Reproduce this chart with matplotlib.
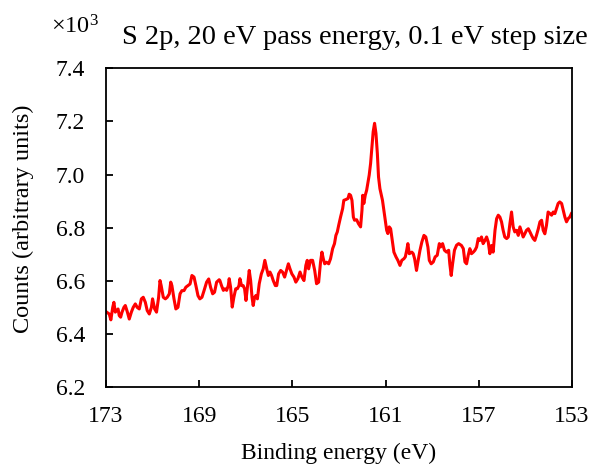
import matplotlib
matplotlib.use("Agg")
import matplotlib.pyplot as plt

# binding energy (eV) and counts (x10^3)
energy = [172.97, 172.86, 172.79, 172.71, 172.66, 172.60, 172.54, 172.48, 172.43, 172.37,
          172.31, 172.23, 172.17, 172.08, 172.00, 171.91, 171.83, 171.74, 171.66, 171.57,
          171.48, 171.40, 171.31, 171.23, 171.14, 171.05, 171.00, 170.91, 170.83, 170.74,
          170.68, 170.63, 170.54, 170.45, 170.37, 170.28, 170.22, 170.17, 170.08, 170.00,
          169.91, 169.82, 169.74, 169.65, 169.57, 169.48, 169.39, 169.31, 169.22, 169.14,
          169.05, 168.97, 168.88, 168.79, 168.68, 168.59, 168.51, 168.42, 168.34, 168.25,
          168.14, 168.11, 168.04, 167.96, 167.89, 167.82, 167.75, 167.71, 167.65, 167.58,
          167.51, 167.43, 167.36, 167.29, 167.25, 167.18, 167.11, 167.05, 166.99, 166.93,
          166.85, 166.79, 166.73, 166.68, 166.62, 166.56, 166.50, 166.42, 166.33, 166.25,
          166.18, 166.10, 166.03, 165.96, 165.89, 165.82, 165.73, 165.67, 165.59, 165.50,
          165.42, 165.33, 165.25, 165.17, 165.10, 165.02, 164.93, 164.85, 164.76, 164.67,
          164.59, 164.50, 164.42, 164.36, 164.30, 164.22, 164.13, 164.04, 163.96, 163.87,
          163.79, 163.73, 163.67, 163.61, 163.53, 163.44, 163.36, 163.27, 163.19, 163.13,
          163.07, 163.01, 162.93, 162.84, 162.79, 162.70, 162.61, 162.56, 162.50, 162.44,
          162.38, 162.33, 162.24, 162.16, 162.07, 162.01, 161.98, 161.93, 161.87, 161.81,
          161.76, 161.70, 161.64, 161.58, 161.53, 161.47, 161.41, 161.35, 161.30, 161.24,
          161.18, 161.13, 161.07, 161.01, 160.95, 160.90, 160.84, 160.78, 160.73, 160.64,
          160.55, 160.47, 160.38, 160.30, 160.21, 160.15, 160.09, 160.04, 159.98, 159.92,
          159.87, 159.81, 159.75, 159.67, 159.61, 159.52, 159.44, 159.35, 159.27, 159.18,
          159.12, 159.04, 158.95, 158.87, 158.78, 158.69, 158.64, 158.55, 158.47, 158.38,
          158.29, 158.24, 158.18, 158.12, 158.04, 157.95, 157.86, 157.74, 157.66, 157.59,
          157.52, 157.45, 157.38, 157.31, 157.23, 157.16, 157.09, 157.02, 156.95, 156.88,
          156.81, 156.73, 156.66, 156.59, 156.52, 156.45, 156.38, 156.30, 156.23, 156.16,
          156.09, 156.02, 155.95, 155.88, 155.80, 155.73, 155.66, 155.59, 155.52, 155.45,
          155.37, 155.30, 155.23, 155.16, 155.09, 155.02, 154.95, 154.87, 154.80, 154.73,
          154.66, 154.59, 154.52, 154.44, 154.37, 154.30, 154.23, 154.16, 154.09, 154.02,
          153.94, 153.87, 153.80, 153.73, 153.66, 153.59, 153.52, 153.44, 153.37, 153.30,
          153.23, 153.16, 153.09, 153.02]
counts = [6.482, 6.475, 6.453, 6.500, 6.519, 6.482, 6.488, 6.494, 6.469, 6.463,
          6.482, 6.500, 6.507, 6.482, 6.456, 6.482, 6.500, 6.513, 6.500, 6.494,
          6.532, 6.538, 6.519, 6.488, 6.475, 6.500, 6.532, 6.494, 6.482, 6.538,
          6.601, 6.582, 6.538, 6.532, 6.538, 6.551, 6.595, 6.582, 6.532, 6.494,
          6.500, 6.551, 6.563, 6.563, 6.576, 6.582, 6.588, 6.620, 6.614, 6.582,
          6.544, 6.532, 6.538, 6.563, 6.595, 6.607, 6.576, 6.551, 6.557, 6.595,
          6.604, 6.601, 6.582, 6.564, 6.570, 6.564, 6.582, 6.608, 6.576, 6.501,
          6.538, 6.570, 6.570, 6.582, 6.608, 6.582, 6.582, 6.570, 6.526, 6.576,
          6.639, 6.601, 6.538, 6.507, 6.538, 6.545, 6.532, 6.589, 6.626, 6.645,
          6.677, 6.645, 6.620, 6.633, 6.620, 6.601, 6.582, 6.582, 6.626, 6.639,
          6.633, 6.614, 6.639, 6.664, 6.645, 6.626, 6.614, 6.595, 6.608, 6.633,
          6.614, 6.601, 6.658, 6.677, 6.645, 6.677, 6.677, 6.639, 6.589, 6.595,
          6.670, 6.708, 6.683, 6.664, 6.670, 6.664, 6.683, 6.721, 6.740, 6.771,
          6.784, 6.809, 6.840, 6.872, 6.903, 6.906, 6.910, 6.926, 6.922, 6.903,
          6.840, 6.828, 6.830, 6.815, 6.803, 6.866, 6.922, 6.891, 6.922, 6.941,
          6.966, 6.998, 7.042, 7.105, 7.161, 7.193, 7.155, 7.079, 6.991, 6.947,
          6.922, 6.903, 6.866, 6.828, 6.790, 6.778, 6.803, 6.796, 6.765, 6.708,
          6.690, 6.677, 6.658, 6.677, 6.683, 6.690, 6.715, 6.740, 6.702, 6.705,
          6.708, 6.702, 6.683, 6.639, 6.671, 6.715, 6.746, 6.771, 6.765, 6.727,
          6.677, 6.664, 6.671, 6.690, 6.696, 6.740, 6.727, 6.740, 6.715, 6.708,
          6.715, 6.664, 6.620, 6.664, 6.715, 6.734, 6.740, 6.733, 6.721, 6.671,
          6.664, 6.696, 6.721, 6.702, 6.708, 6.715, 6.727, 6.759, 6.752, 6.765,
          6.740, 6.752, 6.765, 6.746, 6.702, 6.733, 6.708, 6.790, 6.834, 6.847,
          6.840, 6.822, 6.790, 6.765, 6.759, 6.765, 6.815, 6.859, 6.803, 6.784,
          6.790, 6.771, 6.803, 6.784, 6.765, 6.777, 6.790, 6.796, 6.784, 6.771,
          6.759, 6.752, 6.771, 6.796, 6.822, 6.828, 6.790, 6.777, 6.809, 6.859,
          6.853, 6.847, 6.859, 6.853, 6.872, 6.891, 6.897, 6.891, 6.865, 6.840,
          6.822, 6.834, 6.840, 6.853]

x_ticks = [173, 169, 165, 161, 157, 153]
y_ticks = [6.2, 6.4, 6.6, 6.8, 7.0, 7.2, 7.4]

plt.rcParams['font.family'] = ['Liberation Serif', 'DejaVu Serif']
plt.rcParams['mathtext.fontset'] = 'custom'
plt.rcParams['mathtext.rm'] = 'Liberation Serif'

fig = plt.figure(figsize=(5.92, 4.68), dpi=100)
ax = fig.add_axes([0.179, 0.173, 0.787, 0.681])

ax.plot(energy, counts, color='#ff0000', lw=2.2)

ax.set_xlim(173, 153)
ax.set_ylim(6.2, 7.4)
ax.set_xticks(x_ticks)
ax.set_yticks(y_ticks)
ax.set_xticklabels([str(t) for t in x_ticks])
ax.set_yticklabels(['%.1f' % t for t in y_ticks])
ax.tick_params(direction='in', length=5, width=1.3, labelsize=17, colors='black')
ax.tick_params(axis='x', pad=14)
ax.tick_params(axis='y', pad=15)
for s in ax.spines.values():
    s.set_linewidth(1.3)

ax.set_xlabel('Binding energy (eV)', fontsize=17)
ax.xaxis.set_label_coords(0.5, -0.175)

fig.text(0.039, 0.532, 'Counts (arbitrary units)', fontsize=17.5, rotation=90,
         ha='center', va='center')
fig.text(0.086, 0.942, '×10$\\mathrm{^3}$', fontsize=17.5, ha='left', va='center')
fig.text(0.993, 0.907, 'S 2p, 20 eV pass energy, 0.1 eV step size', fontsize=20.5,
         ha='right', va='baseline')

plt.savefig('out.png', dpi=100)
